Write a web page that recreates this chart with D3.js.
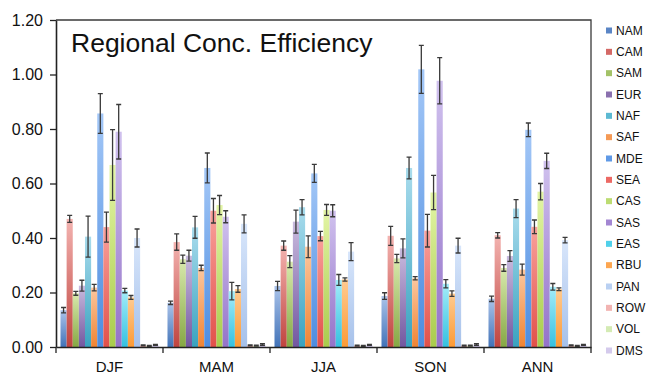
<!DOCTYPE html>
<html>
<head>
<meta charset="utf-8">
<script src="https://cdn.jsdelivr.net/npm/d3@7"></script>
<style>
  html, body { margin: 0; padding: 0; background: #fff; }
  svg { display: block; font-family: "Liberation Sans", Arial, sans-serif; }
</style>
</head>
<body>
<svg id="chart" width="646" height="376"></svg>
<script>
// ---------- DATA ----------
const groups = ["DJF", "MAM", "JJA", "SON", "ANN"];
const series = ["NAM", "CAM", "SAM", "EUR", "NAF", "SAF", "MDE", "SEA",
                "CAS", "SAS", "EAS", "RBU", "PAN", "ROW", "VOL", "DMS"];
const yTicks = [0, 0.2, 0.4, 0.6, 0.8, 1.0, 1.2];

const djfValues = [0.135, 0.470, 0.197, 0.225, 0.405, 0.218, 0.857, 0.440, 0.668, 0.790, 0.207, 0.182, 0.400, 0.006, 0.004, 0.008];
const djfErrors = [0.010, 0.013, 0.007, 0.020, 0.075, 0.012, 0.073, 0.055, 0.130, 0.100, 0.008, 0.007, 0.033, 0.002, 0.002, 0.002];
const mamValues = [0.162, 0.385, 0.322, 0.335, 0.439, 0.290, 0.657, 0.500, 0.521, 0.478, 0.205, 0.213, 0.452, 0.006, 0.005, 0.009];
const mamErrors = [0.006, 0.030, 0.015, 0.020, 0.040, 0.010, 0.055, 0.045, 0.035, 0.022, 0.032, 0.012, 0.033, 0.002, 0.002, 0.003];
const jjaValues = [0.224, 0.372, 0.313, 0.460, 0.513, 0.368, 0.637, 0.407, 0.503, 0.500, 0.246, 0.248, 0.350, 0.005, 0.004, 0.008];
const jjaErrors = [0.017, 0.017, 0.022, 0.042, 0.028, 0.040, 0.033, 0.017, 0.020, 0.022, 0.020, 0.006, 0.033, 0.002, 0.002, 0.002];
const sonValues = [0.187, 0.408, 0.325, 0.362, 0.657, 0.252, 1.019, 0.427, 0.567, 0.977, 0.232, 0.196, 0.372, 0.005, 0.005, 0.009];
const sonErrors = [0.012, 0.035, 0.015, 0.035, 0.040, 0.006, 0.088, 0.060, 0.063, 0.085, 0.015, 0.010, 0.027, 0.002, 0.002, 0.003];
const annValues = [0.177, 0.410, 0.290, 0.334, 0.508, 0.284, 0.797, 0.441, 0.570, 0.683, 0.221, 0.212, 0.392, 0.006, 0.004, 0.008];
const annErrors = [0.010, 0.010, 0.012, 0.020, 0.033, 0.020, 0.025, 0.025, 0.030, 0.028, 0.012, 0.005, 0.010, 0.002, 0.002, 0.002];

const groupValues = [djfValues, mamValues, jjaValues, sonValues, annValues];
const groupErrors = [djfErrors, mamErrors, jjaErrors, sonErrors, annErrors];

// gradient colours per series: [top, bottom], plus legend swatch
const topColors    = ["#aac3ea", "#f3b3b0", "#d8e9ad", "#c9bbde", "#a9dced", "#fcc79f", "#a3c7f7", "#f9a19c", "#e3f5a6", "#d0c1ee", "#a3ecf9", "#ffcb91", "#d8e6fb", "#f8c8c6", "#e4f3cc", "#e3dcf4"];
const bottomColors = ["#4273b8", "#c0443f", "#86a844", "#7257a0", "#3aa2bf", "#f08433", "#4d8de0", "#e2504a", "#a9cc4c", "#9473c9", "#35c1e0", "#fc9a35", "#a6c1ea", "#eca4a2", "#c8e2a2", "#c9bde8"];
const legendColors = ["#5a85c5", "#d46966", "#a3c267", "#8a70ae", "#5cb9d2", "#f59a55", "#5f99e6", "#ec6964", "#bcdc72", "#a386d2", "#50d0ea", "#fda650", "#b9d0f2", "#f2b4b2", "#d4ebb4", "#d4caec"];

// ---------- CHART ----------
(function () {
const svg = d3.select("#chart");
const mLeft = 56, mRight = 591, mTop = 20, mBottom = 347;

const x0 = d3.scaleBand().domain(groups).range([mLeft, mRight])
  .paddingInner(0.084).paddingOuter(0.042);
const x1 = d3.scaleBand().domain(series).range([0, x0.bandwidth()]).padding(0);
const y = d3.scaleLinear().domain([0, 1.2]).range([mBottom, mTop]);

// gradients
const defs = svg.append("defs");
series.forEach((s, i) => {
  const g = defs.append("linearGradient").attr("id", "grad" + i)
    .attr("x1", 0).attr("y1", 0).attr("x2", 0).attr("y2", 1);
  g.append("stop").attr("offset", "0%").attr("stop-color", topColors[i]);
  g.append("stop").attr("offset", "100%").attr("stop-color", bottomColors[i]);
});

// plot frame (top & right)
svg.append("path")
  .attr("d", `M${mLeft},${mTop}H${mRight}V${mBottom}`)
  .attr("fill", "none").attr("stroke", "#3a3a3a").attr("stroke-width", 1.3);

// title
svg.append("text").attr("x", 71).attr("y", 52)
  .attr("font-size", 26.5).attr("fill", "#111")
  .text("Regional Conc. Efficiency");

// bars
const flat = [];
groups.forEach((g, gi) => {
  series.forEach((s, si) => {
    flat.push({ g, s, si, v: groupValues[gi][si], e: groupErrors[gi][si] });
  });
});

svg.append("g").selectAll("rect").data(flat).join("rect")
  .attr("x", d => x0(d.g) + x1(d.s))
  .attr("y", d => y(d.v))
  .attr("width", x1.bandwidth())
  .attr("height", d => y(0) - y(d.v))
  .attr("fill", d => `url(#grad${d.si})`);

// error bars
const eb = svg.append("g").attr("stroke", "#3a3a3a").attr("stroke-width", 1.3).attr("fill", "none");
eb.selectAll("path").data(flat).join("path")
  .attr("d", d => {
    const cx = x0(d.g) + x1(d.s) + x1.bandwidth() / 2;
    const y1 = y(d.v + d.e), y2 = y(Math.max(0, d.v - d.e));
    return `M${cx},${y1}V${y2}M${cx - 2.5},${y1}H${cx + 2.5}M${cx - 2.5},${y2}H${cx + 2.5}`;
  });

// y axis
const yAxis = svg.append("g").attr("transform", `translate(${mLeft},0)`)
  .call(d3.axisLeft(y).tickValues(yTicks).tickFormat(d3.format(".2f"))
    .tickSize(6).tickSizeOuter(0).tickPadding(7));
yAxis.select(".domain").attr("stroke", "#222").attr("stroke-width", 1.6);
yAxis.selectAll(".tick line").attr("stroke", "#222").attr("stroke-width", 1.3);
yAxis.selectAll(".tick text").attr("font-size", 16).attr("fill", "#111")
  .attr("font-family", "Liberation Sans, Arial, sans-serif");

// x axis with labels
const xAxis = svg.append("g").attr("transform", `translate(0,${mBottom})`)
  .call(d3.axisBottom(x0).tickSize(0).tickPadding(14).tickSizeOuter(0));
xAxis.select(".domain").attr("stroke", "#222").attr("stroke-width", 1.6);
xAxis.selectAll(".tick text").attr("font-size", 15).attr("fill", "#111")
  .attr("font-family", "Liberation Sans, Arial, sans-serif");

// boundary ticks between categories
const halfGap = x0.step() * x0.paddingInner() / 2;
const boundaries = groups.map((g, i) => i === 0 ? mLeft : x0(g) - halfGap);
boundaries.push(mRight);
svg.append("g").selectAll("line").data(boundaries).join("line")
  .attr("x1", d => d).attr("x2", d => d)
  .attr("y1", mBottom).attr("y2", mBottom + 6)
  .attr("stroke", "#222").attr("stroke-width", 1.3);

// legend
const legY = d3.scalePoint().domain(series).range([30.5, 350.5]);
const li = svg.append("g").selectAll("g").data(series).join("g")
  .attr("transform", d => `translate(606,${legY(d)})`);
li.append("rect").attr("x", 0).attr("y", -3).attr("width", 6).attr("height", 6)
  .attr("fill", (d, i) => legendColors[i]);
li.append("text").attr("x", 10).attr("y", 0).attr("dy", "0.36em")
  .attr("font-size", 12).attr("fill", "#111").text(d => d);
})();
</script>
</body>
</html>
